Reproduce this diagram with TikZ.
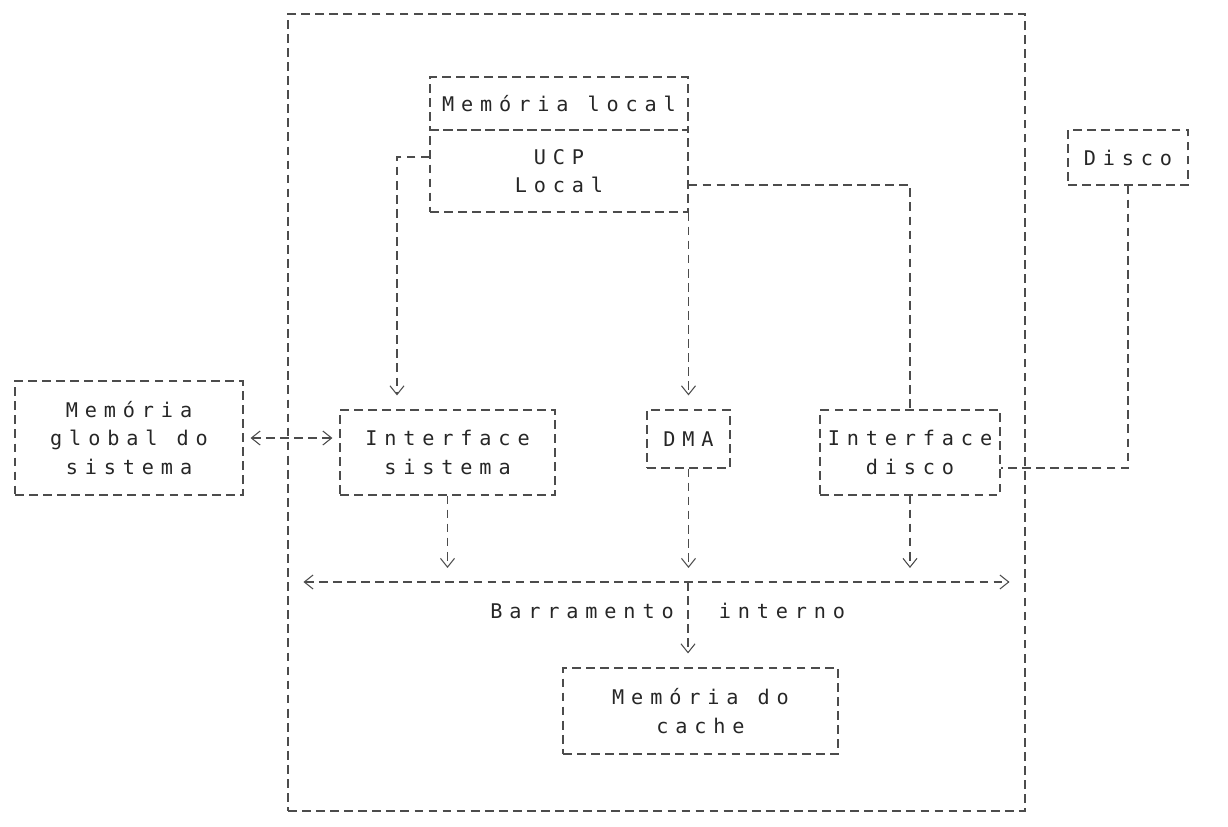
\documentclass[tikz,border=0pt]{standalone}
\usepackage{fontspec}
\newfontfamily\dotfont[LetterSpace=34]{DejaVu Sans Mono}
\usetikzlibrary{calc,arrows.meta}

\begin{document}
\begin{tikzpicture}[x=0.02cm,y=-0.02cm]
			\tikzset{
			    wire/.style={draw=black!70, line width=0.6pt, dash pattern=on 5pt off 3pt},
			    sz/.style 2 args={minimum width=#1*0.02cm, minimum height=#2*0.02cm},
			    box/.style={wire, inner sep=0pt, align=center, text=black!85,
			        font={\dotfont\fontsize{11.5}{16}\selectfont}},
			    lbl/.style={inner sep=0pt, text=black!85, font={\dotfont\fontsize{11.5}{16}\selectfont}},
			    arr/.style={wire, -{Straight Barb[length=5pt,width=8pt]}, shorten >=8pt},
			    biarr/.style={wire, {Straight Barb[length=5pt,width=8pt]}-{Straight Barb[length=5pt,width=8pt]}}}
			\useasboundingbox (0,0) rectangle (1228,826);
			% boxes
			\node[box, sz={737}{797}] (sys) at (656.5,412.5) {};
			\node[box, sz={258}{53}] (mloc) at (559,103.5) {Memória local};
			\node[box, sz={258}{82}] (ucp) at (559,171) {UCP\\Local};
			\node[box, sz={120}{55}] (dsk) at (1128,157.5) {Disco};
			\node[box, sz={228}{114}] (glob) at (129,438) {Memória\\global do\\sistema};
			\node[box, sz={215}{85}] (isis) at (447.5,452.5) {Interface\\sistema};
			\node[box, sz={83}{58}] (dma) at (688.5,439) {DMA};
			\node[box, sz={180}{85}] (idsk) at (910,452.5) {Interface\\disco};
			\node[box, sz={275}{86}] (cache) at (700.5,711) {Memória do\\cache};
			\coordinate (ua) at (397,157);
			\coordinate (ub) at (910,185);
			\coordinate (dk) at (1128,468);
			\coordinate (bus) at (688,582);
			% links
			\draw[arr] (ucp.west |- ua) -- (ua) -- (ua |- isis.north);
			\draw[arr] (dma.north |- ucp.south) -- (dma.north);
			\draw[wire] (ucp.east |- ub) -- (ub) -- (idsk.north);
			\draw[wire] (dsk.south) -- (dk) -- (dk -| idsk.east);
			\draw[biarr, shorten <=4pt, shorten >=4pt] (glob.east) -- (glob.east -| isis.west);
			\draw[biarr] ($(sys.west |- bus)+(16,0)$) -- ($(sys.east |- bus)+(-16,0)$);
			\foreach \n in {isis,dma,idsk}
			    \draw[arr] (\n.south) -- (\n.south |- bus);
			\draw[arr] (bus) -- (bus |- cache.north);
			\node[lbl] (lbar) at (582,611) {Barramento};
			\node[lbl] (lint) at (782,611) {interno};
\end{tikzpicture}
\end{document}
